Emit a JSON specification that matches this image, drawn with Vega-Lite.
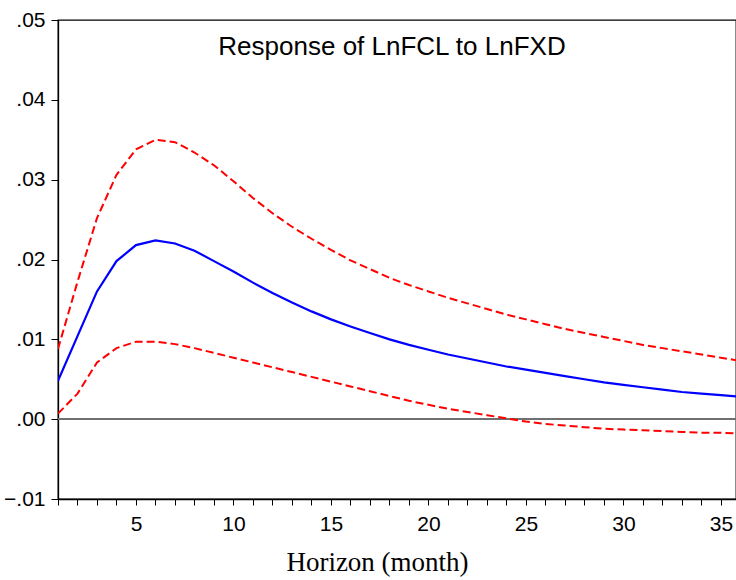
{
  "$schema": "https://vega.github.io/schema/vega-lite/v6.json",
  "width": 678,
  "height": 479,
  "autosize": {"type": "none"},
  "padding": {"left": 58, "top": 20, "right": 0, "bottom": 81},
  "background": "white",
  "config": {
    "view": {"stroke": "black", "strokeWidth": 1.3},
    "axis": {"grid": false, "domainColor": "black", "tickColor": "black", "labelColor": "black", "titleColor": "black", "domainWidth": 1.3, "tickWidth": 1}
  },
  "title": {
    "text": "Response of LnFCL to LnFXD",
    "font": "Liberation Sans",
    "fontSize": 26,
    "fontWeight": "normal",
    "color": "black",
    "anchor": "middle",
    "frame": "group",
    "baseline": "alphabetic",
    "offset": -35,
    "dy": 37,
    "dx": -5
  },
  "datasets": {
    "irf": [
      {"h": 1, "response": 0.0048, "upper": 0.0088, "lower": 0.0007},
      {"h": 2, "response": 0.0104, "upper": 0.0172, "lower": 0.0032},
      {"h": 3, "response": 0.0160, "upper": 0.0252, "lower": 0.0071},
      {"h": 4, "response": 0.0198, "upper": 0.0306, "lower": 0.0089},
      {"h": 5, "response": 0.0218, "upper": 0.0338, "lower": 0.0097},
      {"h": 6, "response": 0.0224, "upper": 0.0350, "lower": 0.0097},
      {"h": 7, "response": 0.0220, "upper": 0.0347, "lower": 0.0094},
      {"h": 8, "response": 0.0211, "upper": 0.0334, "lower": 0.0089},
      {"h": 9, "response": 0.0198, "upper": 0.0318, "lower": 0.0083},
      {"h": 10, "response": 0.0185, "upper": 0.0298, "lower": 0.0077},
      {"h": 11, "response": 0.0171, "upper": 0.0277, "lower": 0.0071},
      {"h": 12, "response": 0.0158, "upper": 0.0258, "lower": 0.0065},
      {"h": 13, "response": 0.0146, "upper": 0.0241, "lower": 0.0059},
      {"h": 14, "response": 0.0135, "upper": 0.0226, "lower": 0.0053},
      {"h": 15, "response": 0.0125, "upper": 0.0212, "lower": 0.0047},
      {"h": 16, "response": 0.0116, "upper": 0.0199, "lower": 0.0041},
      {"h": 17, "response": 0.0108, "upper": 0.0188, "lower": 0.0035},
      {"h": 18, "response": 0.0100, "upper": 0.0177, "lower": 0.0029},
      {"h": 19, "response": 0.0093, "upper": 0.0168, "lower": 0.0023},
      {"h": 20, "response": 0.0087, "upper": 0.0160, "lower": 0.0018},
      {"h": 21, "response": 0.0081, "upper": 0.0152, "lower": 0.0013},
      {"h": 22, "response": 0.0076, "upper": 0.0145, "lower": 0.0009},
      {"h": 23, "response": 0.0071, "upper": 0.0138, "lower": 0.0005},
      {"h": 24, "response": 0.0066, "upper": 0.0131, "lower": 0.0001},
      {"h": 25, "response": 0.0062, "upper": 0.0125, "lower": -0.0003},
      {"h": 26, "response": 0.0058, "upper": 0.0119, "lower": -0.0006},
      {"h": 27, "response": 0.0054, "upper": 0.0113, "lower": -0.0008},
      {"h": 28, "response": 0.0050, "upper": 0.0108, "lower": -0.0010},
      {"h": 29, "response": 0.0046, "upper": 0.0103, "lower": -0.0012},
      {"h": 30, "response": 0.0043, "upper": 0.0098, "lower": -0.0013},
      {"h": 31, "response": 0.0040, "upper": 0.0093, "lower": -0.0014},
      {"h": 32, "response": 0.0037, "upper": 0.0089, "lower": -0.0015},
      {"h": 33, "response": 0.0034, "upper": 0.0085, "lower": -0.0016},
      {"h": 34, "response": 0.0032, "upper": 0.0081, "lower": -0.0017},
      {"h": 35, "response": 0.0030, "upper": 0.0077, "lower": -0.0017},
      {"h": 36, "response": 0.0028, "upper": 0.0073, "lower": -0.0018}
    ]
  },
  "data": {"name": "irf"},
  "encoding": {
    "x": {
      "field": "h",
      "type": "quantitative",
      "scale": {"domain": [1, 35.77], "nice": false, "zero": false},
      "axis": {
        "title": "Horizon (month)",
        "titleFont": "Liberation Serif",
        "titleFontSize": 27,
        "titleFontWeight": "normal",
        "titlePadding": 15,
        "titleX": 319,
        "values": [1,2,3,4,5,6,7,8,9,10,11,12,13,14,15,16,17,18,19,20,21,22,23,24,25,26,27,28,29,30,31,32,33,34,35],
        "labelExpr": "datum.value % 5 == 0 ? datum.label : ''",
        "labelFont": "Liberation Sans",
        "labelFontSize": 21,
        "labelPadding": 8,
        "tickSize": 6,
        "labelFlush": false,
        "labelOverlap": false
      }
    }
  },
  "layer": [
    {
      "mark": {"type": "rule", "color": "#707070", "strokeWidth": 1.5},
      "encoding": {"y": {"datum": 0, "type": "quantitative"}, "x": null}
    },
    {
      "mark": {"type": "line", "color": "red", "strokeWidth": 2, "strokeDash": [8, 4], "clip": true},
      "encoding": {
        "y": {"field": "upper", "type": "quantitative"}
      }
    },
    {
      "mark": {"type": "line", "color": "red", "strokeWidth": 2, "strokeDash": [8, 4], "clip": true},
      "encoding": {
        "y": {"field": "lower", "type": "quantitative"}
      }
    },
    {
      "mark": {"type": "line", "color": "#0000ff", "strokeWidth": 2.2, "clip": true},
      "encoding": {
        "y": {
          "field": "response",
          "type": "quantitative",
          "scale": {"domain": [-0.01, 0.05], "nice": false, "zero": false},
          "axis": {
            "title": null,
            "values": [-0.01, 0, 0.01, 0.02, 0.03, 0.04, 0.05],
            "labelExpr": "replace(format(datum.value, '.2f'), '0.', '.')",
            "labelFont": "Liberation Sans",
            "labelFontSize": 21,
            "labelPadding": 6,
            "tickSize": 7,
            "labelFlush": false,
            "labelOverlap": false
          }
        }
      }
    }
  ],
  "resolve": {"scale": {"y": "shared"}}
}
